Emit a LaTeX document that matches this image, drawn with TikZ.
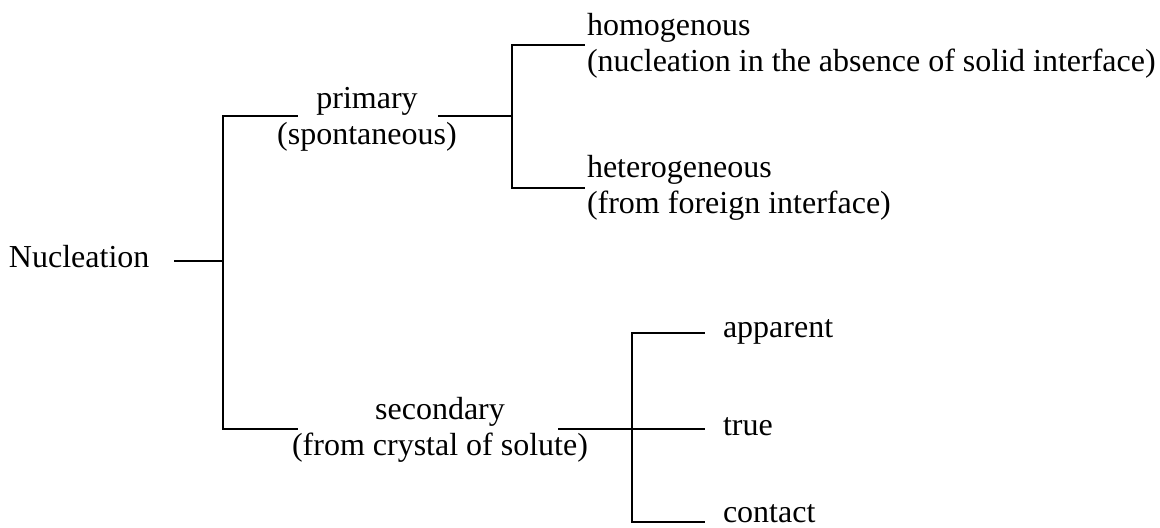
\documentclass[tikz,border=0pt]{standalone}
\usepackage{fontspec}
\setmainfont{Liberation Serif}
\begin{document}
\begin{tikzpicture}[x=0.5pt,y=-0.5pt,
  lbl/.style={inner sep=0pt,outer sep=0pt,font=\fontsize{16pt}{18pt}\selectfont},
  conn/.style={line width=1.1pt,line cap=rect}]
\useasboundingbox (0,0) rectangle (1160,527);
% labels (multi-line nodes: base anchor = last line's baseline)
\node[lbl,anchor=base west] (nuc) at (9,267) {Nucleation};
\node[lbl,anchor=base,align=center] (prim) at (367,144) {primary\\(spontaneous)};
\node[lbl,anchor=base,align=center] (sec) at (440,455) {secondary\\(from crystal of solute)};
\node[lbl,anchor=base west,align=left] (hom) at (587,71) {homogenous\\(nucleation in the absence of solid interface)};
\node[lbl,anchor=base west,align=left] (het) at (587,213) {heterogeneous\\(from foreign interface)};
\node[lbl,anchor=base west] (app) at (723,337) {apparent};
\node[lbl,anchor=base west] (tru) at (723,435) {true};
\node[lbl,anchor=base west] (con) at (723,522) {contact};
% junction coordinates
\coordinate (n0) at (175,261);
\coordinate (j1) at (223,261);
\coordinate (j1t) at (223,116);
\coordinate (j1b) at (223,429);
\coordinate (p0) at (297,116);
\coordinate (s0) at (297,429);
\coordinate (p1) at (439,116);
\coordinate (j2) at (512,116);
\coordinate (j2t) at (512,45);
\coordinate (j2b) at (512,188);
\coordinate (h0) at (584,45);
\coordinate (e0) at (584,188);
\coordinate (s1) at (559,429);
\coordinate (j3) at (632,429);
\coordinate (j3t) at (632,333);
\coordinate (j3b) at (632,522);
\coordinate (a0) at (704,333);
\coordinate (t0) at (704,429);
\coordinate (c0) at (704,522);
% connectors
\draw[conn] (n0) -- (j1);
\draw[conn] (p0) -- (j1t) -- (j1b) -- (s0);
\draw[conn] (p1) -- (j2);
\draw[conn] (h0) -- (j2t) -- (j2b) -- (e0);
\draw[conn] (s1) -- (t0);
\draw[conn] (a0) -- (j3t) -- (j3b) -- (c0);
\end{tikzpicture}
\end{document}
